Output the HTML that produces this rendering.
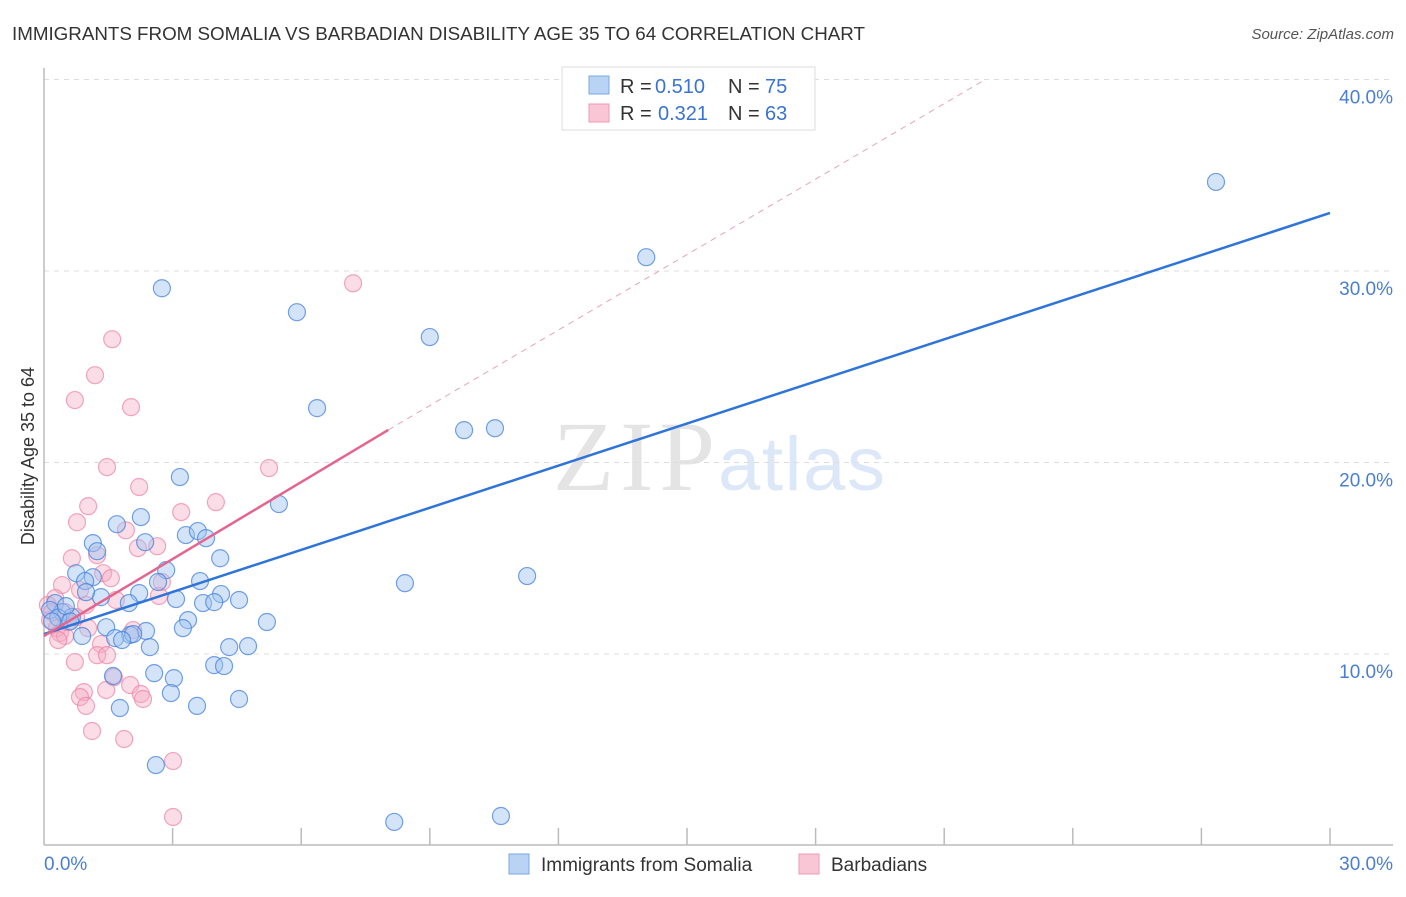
<!DOCTYPE html>
<html><head><meta charset="utf-8"><style>
body{margin:0;background:#fff;font-family:"Liberation Sans",sans-serif;}
svg text{font-family:"Liberation Sans",sans-serif;}
</style></head><body>
<svg id="chart" width="1406" height="892" xmlns="http://www.w3.org/2000/svg">
<text x="12" y="40" font-size="18.8" fill="#333" textLength="853">IMMIGRANTS FROM SOMALIA VS BARBADIAN DISABILITY AGE 35 TO 64 CORRELATION CHART</text>
<text x="1394" y="39" font-size="15" fill="#555" text-anchor="end" font-style="italic">Source: ZipAtlas.com</text>
<text x="34" y="456" font-size="18" fill="#333" text-anchor="middle" transform="rotate(-90 34 456)">Disability Age 35 to 64</text>
<g><text x="553" y="490" font-size="100" fill="#e4e4e4" textLength="162" style="font-family:'Liberation Serif',serif">ZIP</text><text x="718" y="490" font-size="76" fill="#dce8f7" textLength="167">atlas</text></g>
<g id="grid"></g><g id="axes"></g><g id="pts"></g><g id="lines"></g>
<g>
<rect x="562" y="67" width="253" height="63" fill="#fff" stroke="#ddd"/>
<rect x="589" y="76" width="20" height="18" fill="#b9d3f5" stroke="#7aa7e6"/>
<rect x="589" y="104" width="20" height="18" fill="#f9c6d5" stroke="#ee9ab3"/>
<text y="93" font-size="20" fill="#333"><tspan x="620">R =</tspan><tspan x="655" fill="#3a73d1">0.510</tspan><tspan x="728">N =</tspan><tspan x="765" fill="#3a73d1">75</tspan></text>
<text y="120" font-size="20" fill="#333"><tspan x="620">R =</tspan><tspan x="658" fill="#3a73d1">0.321</tspan><tspan x="728">N =</tspan><tspan x="765" fill="#3a73d1">63</tspan></text>
</g>
<g>
<rect x="509" y="854" width="20" height="20" fill="#b9d3f5" stroke="#7aa7e6"/>
<text x="541" y="871" font-size="19" fill="#333">Immigrants from Somalia</text>
<rect x="799" y="854" width="20" height="20" fill="#f9c6d5" stroke="#ee9ab3"/>
<text x="831" y="871" font-size="19" fill="#333">Barbadians</text>
</g>
</svg>
<script>
const yTicks=[10,20,30,40];
const yTickLabels=["10.0%","20.0%","30.0%","40.0%"];
const xTicks=[3,6,9,12,15,18,21,24,27,30];
const xEndLabels=["0.0%","30.0%"];
const blueX=[27.34,14.05,2.75,5.9,9.0,6.37,9.8,10.52,3.17,5.48,2.26,1.7,3.31,3.59,3.78,1.14,1.24,2.36,4.11,2.85,0.75,1.14,0.96,2.66,3.64,8.42,11.27,2.22,1.33,0.98,3.08,4.13,3.71,3.97,4.55,1.98,0.26,0.42,0.65,3.36,5.2,3.24,1.45,2.38,2.01,2.08,1.66,1.82,0.89,2.47,4.32,4.76,3.97,4.2,1.61,2.57,3.03,2.96,4.55,3.57,1.77,2.61,8.17,10.66,0.14,0.33,0.51,0.19,0.61];
const blueY=[34.65,30.72,29.1,27.85,26.55,22.84,21.69,21.79,19.24,17.83,17.15,16.78,16.21,16.42,16.05,15.79,15.37,15.84,15.0,14.38,14.22,14.01,13.81,13.76,13.81,13.7,14.07,13.18,12.97,13.23,12.87,13.13,12.66,12.71,12.82,12.66,12.66,12.19,11.93,11.77,11.67,11.35,11.4,11.2,11.0,11.04,10.83,10.73,10.94,10.36,10.36,10.41,9.42,9.37,8.85,9.0,8.74,7.96,7.65,7.29,7.18,4.2,1.23,1.54,12.3,11.9,12.5,11.7,11.7];
const pinkX=[7.21,1.59,1.19,0.72,2.03,1.47,5.25,2.22,4.01,1.03,3.2,0.77,1.91,2.64,2.19,1.24,0.65,1.38,1.56,2.75,0.42,0.84,2.68,1.68,0.26,0.09,0.98,0.49,0.75,0.14,0.3,1.03,2.08,0.37,0.49,1.33,1.24,1.47,0.72,1.63,2.01,1.45,2.26,0.93,0.84,2.31,0.98,1.12,1.87,3.01,3.01,0.19,0.56,0.33];
const pinkY=[29.36,26.44,24.56,23.26,22.89,19.76,19.71,18.72,17.93,17.72,17.41,16.88,16.46,15.63,15.53,15.16,15.0,14.22,13.96,13.76,13.6,13.34,13.03,12.82,12.92,12.56,12.56,12.19,11.93,11.77,11.35,11.35,11.25,11.09,10.94,10.52,9.94,9.94,9.58,8.79,8.38,8.12,7.91,8.01,7.75,7.65,7.29,5.98,5.56,4.41,1.49,12.19,11.67,10.73];
const blueLine=[0,11.04,30,33.03];
const pinkLine=[0,10.94,8.03,21.7];
const pinkDash=[8.03,21.7,21.96,40.0];

const NS="http://www.w3.org/2000/svg";
const sx=v=>44+v/30*1286;
const sy=v=>845.5-v*19.15;
function mk(parent,tag,attrs){const e=document.createElementNS(NS,tag);for(const k in attrs)e.setAttribute(k,attrs[k]);document.getElementById(parent).appendChild(e);return e;}
yTicks.forEach((t,i)=>{
 const g=mk('grid','line',{x1:44,x2:1393,y1:sy(t),y2:sy(t),stroke:'#ddd','stroke-dasharray':'5,5'});
 
 
 const l=mk('axes','text',{x:1393,y:sy(t)+24,'font-size':19,fill:'#4a7fd0','text-anchor':'end'});
 l.textContent=yTickLabels[i];
 
 
});
let a=mk('axes','line',{x1:44,x2:44,y1:68,y2:845,stroke:'#bbb','stroke-width':1.5});


a=mk('axes','line',{x1:44,x2:1393,y1:845,y2:845,stroke:'#bbb','stroke-width':1.5});


xTicks.forEach(t=>{const k=mk('axes','line',{x1:sx(t),x2:sx(t),y1:828,y2:845,stroke:'#bbb','stroke-width':1.5});
 
 });
let xl=mk('axes','text',{x:44,y:870,'font-size':19,fill:'#4a7fd0'});xl.textContent=xEndLabels[0];


xl=mk('axes','text',{x:1393,y:870,'font-size':19,fill:'#4a7fd0','text-anchor':'end'});xl.textContent=xEndLabels[1];


pinkX.forEach((x,i)=>{const c=mk('pts','circle',{cx:sx(x),cy:sy(pinkY[i]),r:8.5,fill:'rgba(246,170,195,0.4)',stroke:'rgba(236,130,165,0.7)','stroke-width':1.2});
 
 });
blueX.forEach((x,i)=>{const c=mk('pts','circle',{cx:sx(x),cy:sy(blueY[i]),r:8.5,fill:'rgba(160,195,240,0.45)',stroke:'rgba(70,130,220,0.75)','stroke-width':1.2});
 
 });
let ln=mk('lines','line',{x1:sx(pinkDash[0]),y1:sy(pinkDash[1]),x2:sx(pinkDash[2]),y2:sy(pinkDash[3]),stroke:'#e9a4b8','stroke-width':1,'stroke-dasharray':'6,5'});


ln=mk('lines','line',{x1:sx(blueLine[0]),y1:sy(blueLine[1]),x2:sx(blueLine[2]),y2:sy(blueLine[3]),stroke:'#2f74d8','stroke-width':2.5});


ln=mk('lines','line',{x1:sx(pinkLine[0]),y1:sy(pinkLine[1]),x2:sx(pinkLine[2]),y2:sy(pinkLine[3]),stroke:'#e4648e','stroke-width':2.5});


</script>
</body></html>
